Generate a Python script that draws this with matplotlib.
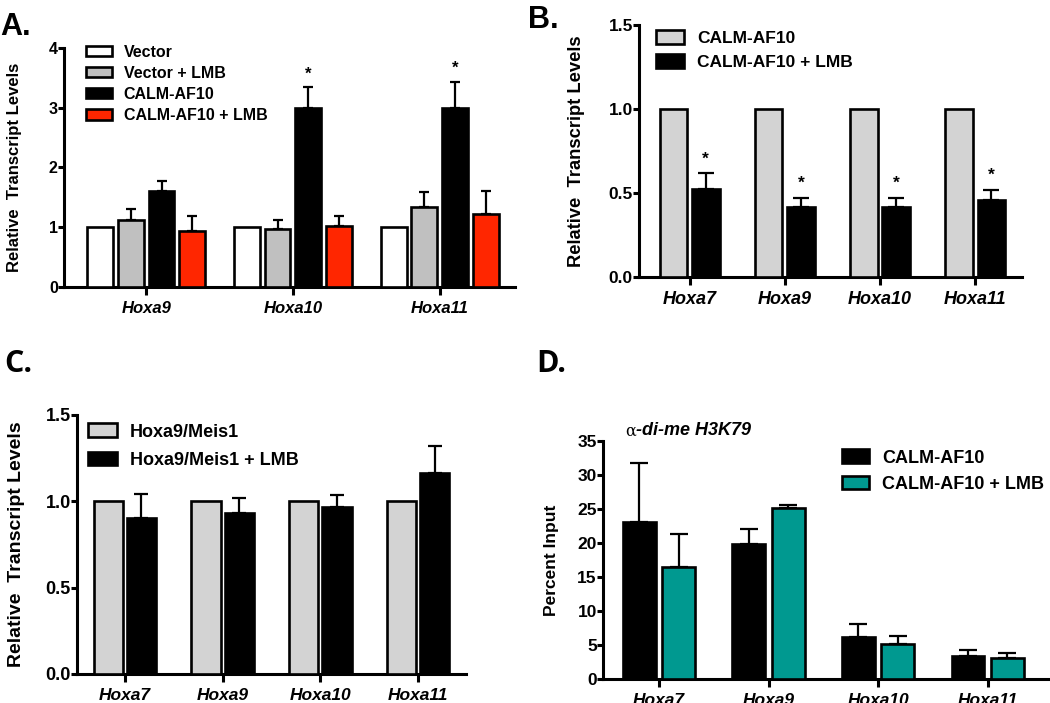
import numpy as np
import matplotlib
matplotlib.use("Agg")
import matplotlib.pyplot as plt
from matplotlib.patches import Patch

plt.rcParams["font.family"] = ["Liberation Sans", "DejaVu Sans"]
plt.rcParams["font.weight"] = "bold"

# Panel A
genesA = ["Hoxa9", "Hoxa10", "Hoxa11"]
seriesA = ["Vector", "Vector + LMB", "CALM-AF10", "CALM-AF10 + LMB"]
valsA = [[1.0, 1.0, 1.0],
         [1.11, 0.97, 1.33],
         [1.61, 3.0, 3.0],
         [0.93, 1.01, 1.22]]
errA = [[0.0, 0.0, 0.0],
        [0.19, 0.15, 0.25],
        [0.16, 0.34, 0.43],
        [0.26, 0.18, 0.38]]
starsA = [(2, 1), (2, 2)]  # (series, gene)

# Panel B
genesB = ["Hoxa7", "Hoxa9", "Hoxa10", "Hoxa11"]
seriesB = ["CALM-AF10", "CALM-AF10 + LMB"]
valsB = [[1.0, 1.0, 1.0, 1.0],
         [0.525, 0.42, 0.418, 0.457]]
errB = [[0.0, 0.0, 0.0, 0.0],
        [0.093, 0.053, 0.053, 0.063]]

# Panel C
genesC = ["Hoxa7", "Hoxa9", "Hoxa10", "Hoxa11"]
seriesC = ["Hoxa9/Meis1", "Hoxa9/Meis1 + LMB"]
valsC = [[1.0, 1.0, 1.0, 1.0],
         [0.905, 0.934, 0.967, 1.165]]
errC = [[0.0, 0.0, 0.0, 0.0],
        [0.138, 0.087, 0.072, 0.156]]

# Panel D
genesD = ["Hoxa7", "Hoxa9", "Hoxa10", "Hoxa11"]
seriesD = ["CALM-AF10", "CALM-AF10 + LMB"]
valsD = [[23.1, 19.85, 6.2, 3.4],
         [16.4, 25.1, 5.1, 3.1]]
errD = [[8.6, 2.15, 1.9, 0.9],
        [4.9, 0.5, 1.2, 0.8]]

LW = 1.9
ELW = 1.6


def style_axes(ax, ylim, yticks, yticklabels, genes, xlim, fs_y=12, fs_x=12):
    ax.set_ylim(ylim)
    ax.set_xlim(xlim)
    for s in ["top", "right"]:
        ax.spines[s].set_visible(False)
    for s in ["left", "bottom"]:
        ax.spines[s].set_linewidth(2.2)
    ax.set_yticks(yticks)
    ax.set_yticklabels(yticklabels, fontsize=fs_y, fontweight="bold")
    ax.set_xticks(range(len(genes)))
    ax.set_xticklabels(genes, fontsize=fs_x, fontweight="bold", style="italic")
    ax.tick_params(axis="y", length=4, width=2.2, pad=0.5)
    ax.tick_params(axis="x", length=6, width=2.2, pad=4)


def draw_bars(ax, vals, errs, colors, width, step, capsize):
    n = len(vals)
    x = np.arange(len(vals[0]))
    for i in range(n):
        off = (i - (n - 1) / 2.0) * step
        ax.bar(x + off, vals[i], width, color=colors[i], edgecolor="black",
               linewidth=LW, zorder=3)
        e = np.array(errs[i])
        if e.sum() > 0:
            ax.errorbar(x + off, vals[i], yerr=[np.zeros_like(e), e], fmt="none",
                        ecolor="black", elinewidth=ELW, capsize=capsize,
                        capthick=ELW, zorder=2)
    return x


fig = plt.figure(figsize=(10.5, 7.03), dpi=100)

# ---------- A ----------
axA = fig.add_axes([0.061, 0.592, 0.429, 0.340])
colA = ["white", "#c0c0c0", "black", "#ff2600"]
stepA = 0.209
draw_bars(axA, valsA, errA, colA, 0.175, stepA, 3.3)
style_axes(axA, (0, 4), [0, 1, 2, 3, 4], ["0", "1", "2", "3", "4"], genesA, (-0.56, 2.51),
           fs_y=11.5, fs_x=12)
for s, g in starsA:
    off = (s - 1.5) * stepA
    axA.text(g + off, valsA[s][g] + errA[s][g] + 0.1, "*", ha="center", va="bottom",
             fontsize=12, fontweight="bold")
axA.set_ylabel("Relative  Transcript Levels", fontsize=12, fontweight="bold")
axA.yaxis.set_label_coords(-0.093, 0.5)
hA = [Patch(facecolor=c, edgecolor="black", linewidth=LW) for c in colA]
axA.legend(hA, seriesA, loc="upper left", bbox_to_anchor=(0.035, 1.04), frameon=False,
           fontsize=11.5, handlelength=1.6, handleheight=0.65, handletextpad=0.75,
           labelspacing=0.38, borderaxespad=0)
fig.text(0.0, 0.962, "A.", fontsize=22, fontweight="bold", ha="left", va="center")

# ---------- B ----------
axB = fig.add_axes([0.6086, 0.606, 0.3647, 0.358])
colB = ["#d3d3d3", "black"]
draw_bars(axB, valsB, errB, colB, 0.29, 0.34, 5.6)
style_axes(axB, (0, 1.5), [0, 0.5, 1.0, 1.5], ["0.0", "0.5", "1.0", "1.5"], genesB, (-0.53, 3.49),
           fs_y=12.5, fs_x=13)
for g in range(len(genesB)):
    axB.text(g + 0.17, valsB[1][g] + errB[1][g] + 0.04, "*", ha="center", va="bottom",
             fontsize=12.5, fontweight="bold")
axB.set_ylabel("Relative  Transcript Levels", fontsize=13.2, fontweight="bold")
axB.yaxis.set_label_coords(-0.141, 0.5)
hB = [Patch(facecolor=c, edgecolor="black", linewidth=LW) for c in colB]
axB.legend(hB, seriesB, loc="upper left", bbox_to_anchor=(0.027, 1.01), frameon=False,
           fontsize=12.5, handlelength=1.6, handleheight=0.85, handletextpad=0.75,
           labelspacing=0.5, borderaxespad=0)
fig.text(0.503, 0.972, "B.", fontsize=22, fontweight="bold", ha="left", va="center")

# ---------- C ----------
axC = fig.add_axes([0.0733, 0.0413, 0.3705, 0.3684])
colC = ["#d3d3d3", "black"]
draw_bars(axC, valsC, errC, colC, 0.30, 0.34, 5.0)
style_axes(axC, (0, 1.5), [0, 0.5, 1.0, 1.5], ["0.0", "0.5", "1.0", "1.5"], genesC, (-0.49, 3.49),
           fs_y=13, fs_x=12.5)
axC.set_ylabel("Relative  Transcript Levels", fontsize=14, fontweight="bold")
axC.yaxis.set_label_coords(-0.134, 0.5)
hC = [Patch(facecolor=c, edgecolor="black", linewidth=LW) for c in colC]
axC.legend(hC, seriesC, loc="upper left", bbox_to_anchor=(0.01, 0.995), frameon=False,
           fontsize=13, handlelength=1.6, handleheight=0.8, handletextpad=0.7,
           labelspacing=0.6, borderaxespad=0)
fig.text(0.004, 0.482, "C.", fontsize=22, fontweight="bold", ha="left", va="center",
         family="Open Sans")

# ---------- D ----------
axD = fig.add_axes([0.5743, 0.0341, 0.4238, 0.3386])
colD = ["black", "#009990"]
draw_bars(axD, valsD, errD, colD, 0.30, 0.36, 6.5)
style_axes(axD, (0, 35), [0, 5, 10, 15, 20, 25, 30, 35],
           ["0", "5", "10", "15", "20", "25", "30", "35"], genesD, (-0.51, 3.55),
           fs_y=12.5, fs_x=12.5)
axD.set_ylabel("Percent Input", fontsize=12.5, fontweight="bold")
axD.yaxis.set_label_coords(-0.10, 0.5)
hD = [Patch(facecolor=c, edgecolor="black", linewidth=LW) for c in colD]
axD.legend(hD, seriesD, loc="upper left", bbox_to_anchor=(0.52, 0.995), frameon=False,
           fontsize=13, handlelength=1.5, handleheight=0.8, handletextpad=0.75,
           labelspacing=0.5, borderaxespad=0)
axD.text(0.051, 1.042, "α", transform=axD.transAxes, fontsize=11.5, fontweight="normal",
         family="DejaVu Serif", ha="left", va="center")
axD.text(0.074, 1.042, "-di-me H3K79", transform=axD.transAxes, fontsize=13,
         fontweight="bold", style="italic", ha="left", va="center")
fig.text(0.511, 0.482, "D.", fontsize=22, fontweight="bold", ha="left", va="center",
         family="Open Sans")

fig.savefig("out.png", dpi=100)
